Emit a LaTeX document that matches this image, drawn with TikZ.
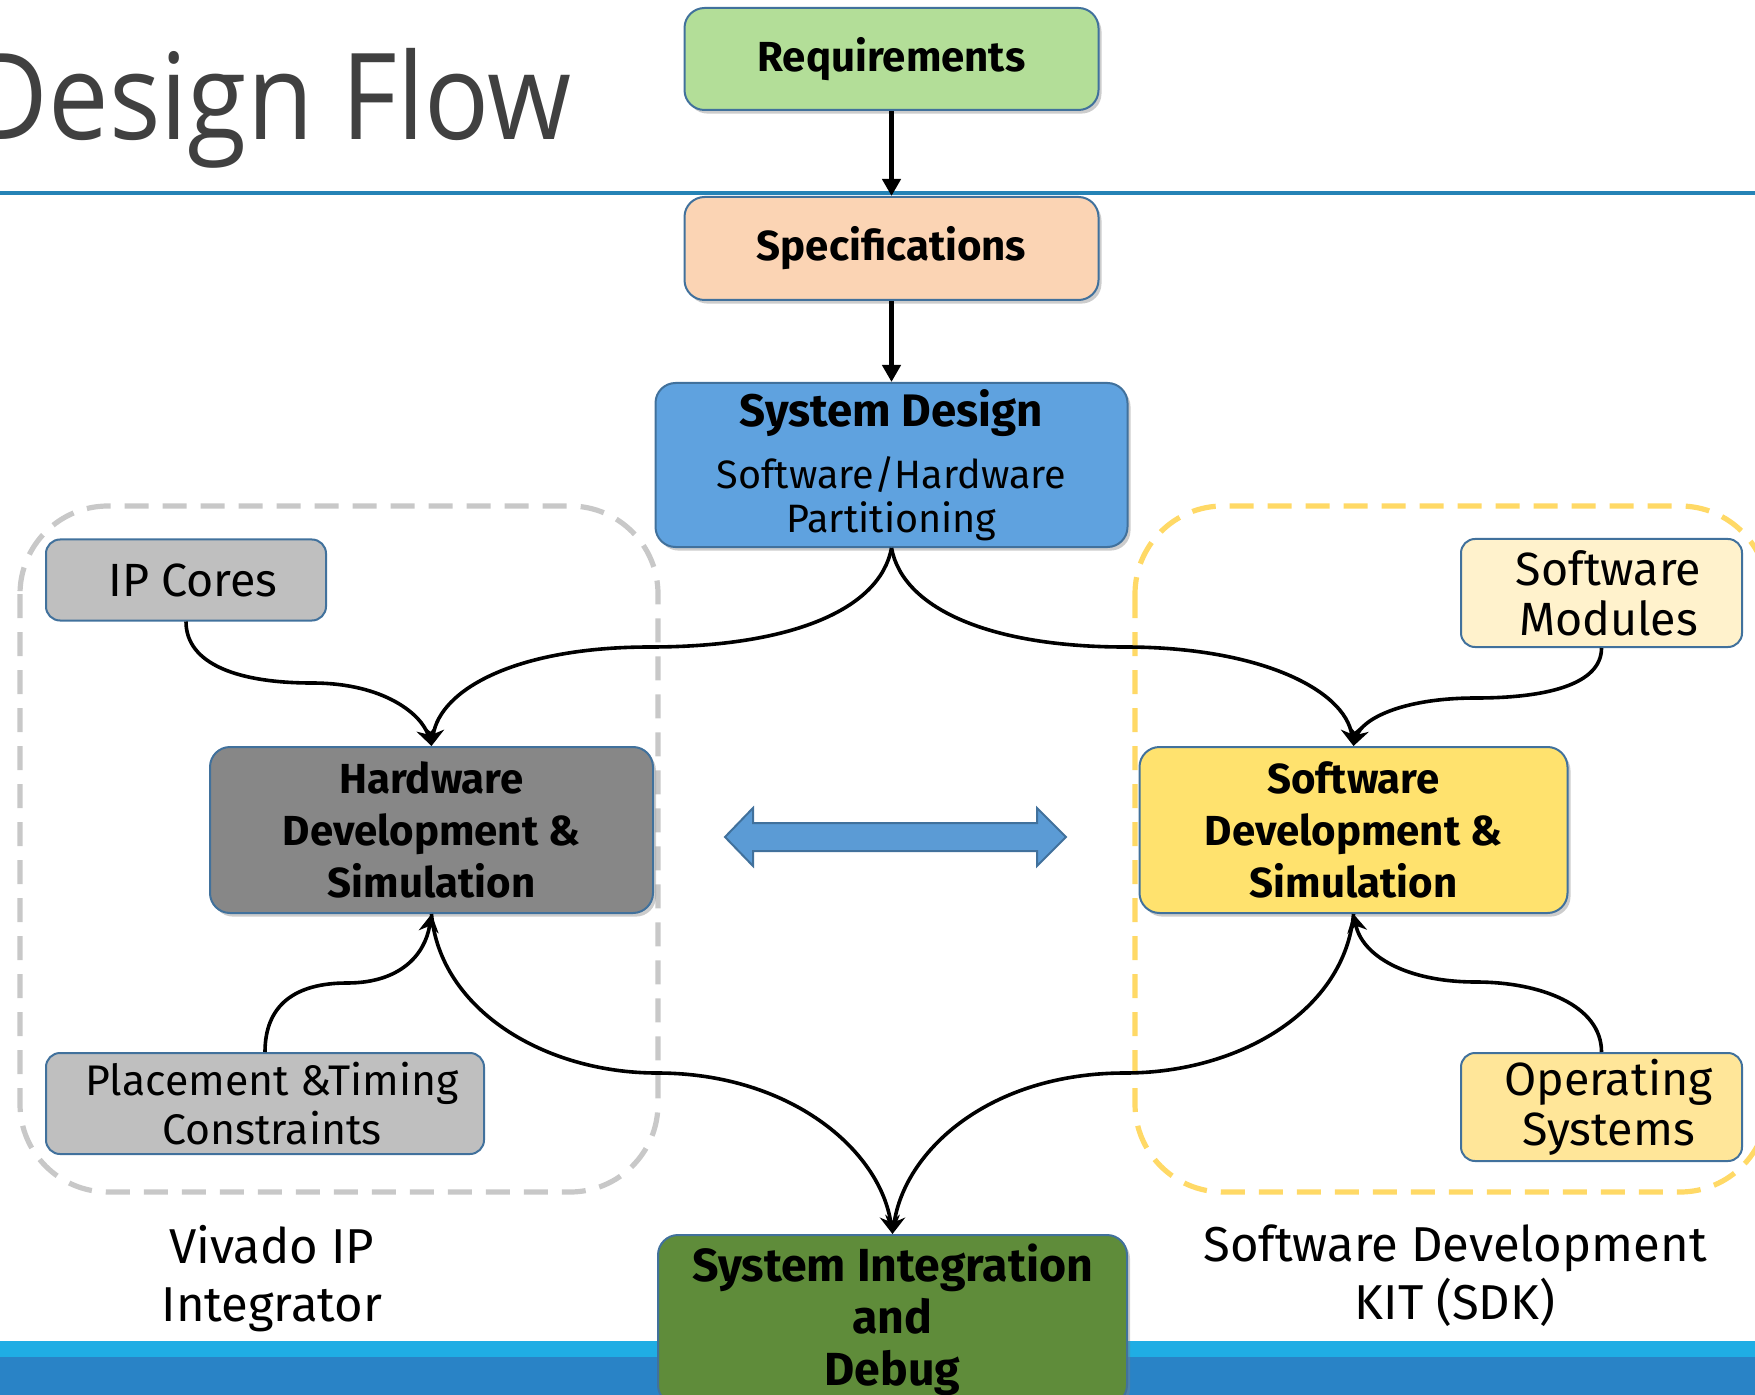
\documentclass[tikz,border=0pt]{standalone}
\usepackage{fontspec}
\setmainfont{Fira Sans}
\newfontfamily\titlefont[FakeStretch=0.9]{Open Sans}
\usetikzlibrary{arrows.meta,shadows}

\definecolor{reqc}{HTML}{B3DE98}
\definecolor{specc}{HTML}{FBD4B4}
\definecolor{sysc}{HTML}{5FA2DF}
\definecolor{hwc}{HTML}{878787}
\definecolor{swc}{HTML}{FFE26E}
\definecolor{sic}{HTML}{5F8C3A}
\definecolor{edgec}{HTML}{41719C}
\definecolor{ipcc}{HTML}{BFBFBF}
\definecolor{swmc}{HTML}{FFF2CC}
\definecolor{osc}{HTML}{FFE699}
\definecolor{graydash}{HTML}{C8C8C8}
\definecolor{yelldash}{HTML}{FFD966}
\definecolor{linec}{HTML}{2583B6}
\definecolor{barlight}{HTML}{1FADE4}
\definecolor{bardark}{HTML}{2983C6}
\definecolor{titlec}{HTML}{404040}
\definecolor{dblarrowc}{HTML}{5B9BD5}

\newcommand\mkbevel[2]{\pgfdeclareverticalshading{#1}{100bp}{color(0bp)=(#2!55!black); color(6bp)=(#2!78!black); color(14bp)=(#2); color(84bp)=(#2); color(92bp)=(#2!60!white); color(97bp)=(#2!85!white); color(100bp)=(#2!85!black)}}
\mkbevel{shreq}{reqc}
\mkbevel{shspec}{specc}
\mkbevel{shsys}{sysc}
\mkbevel{shhw}{hwc}
\mkbevel{shsw}{swc}
\mkbevel{shsi}{sic}

\newcommand\pad{\hspace*{7pt}}

\tikzset{
  mainbox/.style={rounded corners=10pt, draw=edgec, line width=1pt, shade, shading=#1,
    drop shadow={shadow xshift=1.5pt, shadow yshift=-1.8pt, opacity=0.4},
    align=center, inner sep=0pt, font=\bfseries\fontsize{21}{26}\selectfont},
  smallbox/.style={rounded corners=7pt, draw=edgec, line width=1pt, fill=#1,
    align=center, inner sep=0pt, font=\fontsize{23.3}{25}\selectfont},
  lbl/.style={align=center, inner sep=0pt, font=\fontsize{24.5}{29}\selectfont},
  conn/.style={line width=1.8pt, -{Stealth[length=9pt,width=10pt,inset=3pt]}},
  vconn/.style={line width=2.4pt, -{Triangle[length=8.5pt,width=9pt]}},
  region/.style={line width=2.6pt, dash pattern=on 12pt off 7pt, rounded corners=44pt},
}

\begin{document}
\begin{tikzpicture}[x=0.5pt,y=-0.5pt]
\useasboundingbox (0,0) rectangle (1755,1395);
\begin{scope}
\clip (0,0) rectangle (1755,1395);

% title and rules
\node[anchor=base east, text=titlec, font=\titlefont\fontsize{60}{72}\selectfont, inner sep=0pt] (title) at (572,140) {Design Flow};
\draw[linec, line width=2pt] (0,193) -- (1755,193);
\fill[barlight] (0,1341) rectangle (1755,1357);
\fill[bardark] (0,1357) rectangle (1755,1395);

% dashed regions
\draw[region, graydash] (20,506) rectangle (658,1192);
\draw[region, yelldash] (1135,506) rectangle (1768,1192);

% double arrow
\draw[fill=dblarrowc, draw=edgec, line width=1pt, line join=miter]
  (725,837) -- (753,808) -- (753,823) -- (1037,823) -- (1037,808) -- (1066,837)
  -- (1037,866) -- (1037,851) -- (753,851) -- (753,866) -- cycle;

% main boxes
\node[mainbox=shreq, minimum width=207pt, minimum height=51pt] (req) at (891.5,59) {Requirements};
\node[mainbox=shspec, minimum width=207pt, minimum height=51.5pt] (spec) at (891.5,248.5) {Specifications};
\node[mainbox=shsys, minimum width=236pt, minimum height=82pt, font=\fontsize{19.8}{22}\selectfont] (sysd) at (891.5,465)
  {{\bfseries\fontsize{22.8}{26}\selectfont System Design}\\[9pt]Software/Hardware\\Partitioning};
\node[mainbox=shhw, minimum width=221.5pt, minimum height=83pt] (hw) at (431.5,830) {Hardware\\Development \&\\Simulation};
\node[mainbox=shsw, minimum width=214pt, minimum height=83pt] (sw) at (1353.5,830) {Software\\Development \&\\Simulation};
\node[mainbox=shsi, minimum width=234.5pt, minimum height=85pt, font=\bfseries\fontsize{23.2}{26}\selectfont] (sid) at (892.5,1320) {System Integration\\and\\Debug};

% small boxes
\node[smallbox=ipcc, minimum width=140pt, minimum height=40.5pt] (ipc) at (186,580) {\pad IP Cores};
\node[smallbox=ipcc, minimum width=219pt, minimum height=50.5pt, font=\fontsize{21.4}{24.5}\selectfont] (ptc) at (265,1103.5) {\pad Placement \&Timing\\\pad Constraints};
\node[smallbox=swmc, minimum width=140.5pt, minimum height=54pt] (swm) at (1601.5,593) {\pad Software\\\pad Modules};
\node[smallbox=osc, minimum width=140.5pt, minimum height=54pt] (os) at (1601.5,1107) {\pad Operating\\\pad Systems};

% labels
\node[lbl] (viv) at (272,1279) {Vivado IP\\Integrator};
\node[lbl] (sdk) at (1455,1276) {Software Development\\KIT (SDK)};

% connectors
\draw[vconn] (req) -- (spec);
\draw[vconn] (spec) -- (sysd);
\draw[conn] (sysd.south) .. controls (880,610) and (790,647) .. (650,647) .. controls (515,647) and (440,690) .. (hw.north);
\draw[conn] (sysd.south) .. controls (903,610) and (993,647) .. (1125,647) .. controls (1260,647) and (1345,690) .. (sw.north);
\draw[conn] (ipc.south) .. controls (186,665) and (240,683) .. (312,683) .. controls (385,683) and (422,715) .. (hw.north);
\draw[conn] (swm.south) .. controls (1601.5,685) and (1545,698) .. (1476,698) .. controls (1400,698) and (1362,720) .. (sw.north);
\draw[conn] (hw.south) .. controls (440,1010) and (545,1073) .. (657,1073) .. controls (790,1073) and (880,1150) .. (sid.north);
\draw[conn] (sw.south) .. controls (1345,1010) and (1240,1073) .. (1125,1073) .. controls (990,1073) and (905,1150) .. (sid.north);
\draw[conn] (ptc.north) .. controls (265,1005) and (295,983) .. (347,983) .. controls (400,983) and (425,955) .. (hw.south);
\draw[conn] (os.north) .. controls (1601.5,1005) and (1540,982) .. (1476,982) .. controls (1405,982) and (1362,955) .. (sw.south);
\end{scope}
\end{tikzpicture}
\end{document}
